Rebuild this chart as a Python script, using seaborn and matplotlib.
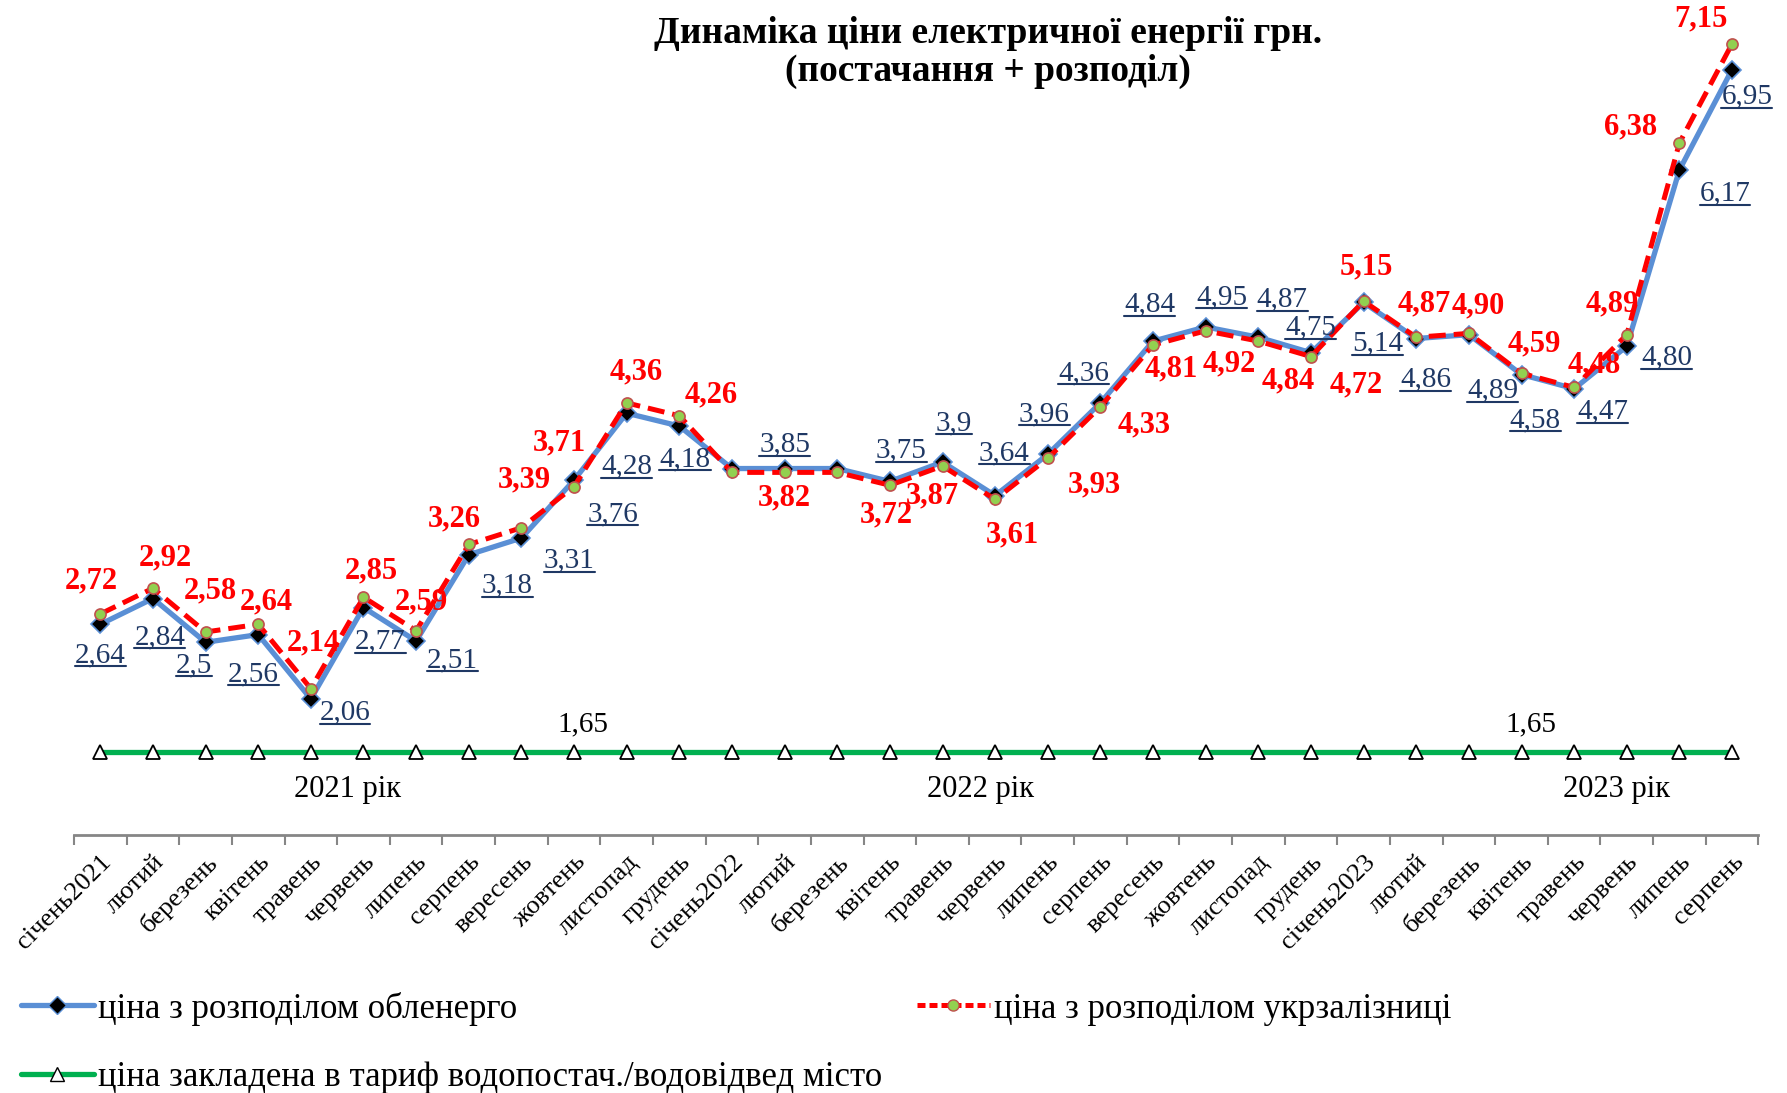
"""Динаміка ціни електричної енергії: обленерго / укрзалізниця / тариф"""
import matplotlib
matplotlib.use('Agg')
import matplotlib.pyplot as plt
import seaborn as sns
from matplotlib.lines import Line2D

# дані з графіка
months = ['січень2021', 'лютий', 'березень', 'квітень', 'травень', 'червень',
          'липень', 'серпень', 'вересень', 'жовтень', 'листопад', 'грудень',
          'січень2022', 'лютий', 'березень', 'квітень', 'травень', 'червень',
          'липень', 'серпень', 'вересень', 'жовтень', 'листопад', 'грудень',
          'січень2023', 'лютий', 'березень', 'квітень', 'травень', 'червень',
          'липень', 'серпень']

oblenergo = [2.64, 2.84, 2.50, 2.56, 2.06, 2.77, 2.51, 3.18, 3.31, 3.76, 4.28, 4.18,
             3.85, 3.85, 3.85, 3.75, 3.90, 3.64, 3.96, 4.36, 4.84, 4.95, 4.87, 4.75,
             5.14, 4.86, 4.89, 4.58, 4.47, 4.80, 6.17, 6.95]

ukrzal = [2.72, 2.92, 2.58, 2.64, 2.14, 2.85, 2.59, 3.26, 3.39, 3.71, 4.36, 4.26,
          3.82, 3.82, 3.82, 3.72, 3.87, 3.61, 3.93, 4.33, 4.81, 4.92, 4.84, 4.72,
          5.15, 4.87, 4.90, 4.59, 4.48, 4.89, 6.38, 7.15]

tariff = [1.65] * 32

oblenergo_labels = ['2,64', '2,84', '2,5', '2,56', '2,06', '2,77', '2,51', '3,18', '3,31',
                    '3,76', '4,28', '4,18', '', '3,85', '', '3,75', '3,9', '3,64', '3,96',
                    '4,36', '4,84', '4,95', '4,87', '4,75', '5,14', '4,86', '4,89', '4,58',
                    '4,47', '4,80', '6,17', '6,95']

ukrzal_labels = ['2,72', '2,92', '2,58', '2,64', '2,14', '2,85', '2,59', '3,26', '3,39',
                 '3,71', '4,36', '4,26', '', '3,82', '', '3,72', '3,87', '3,61', '3,93',
                 '4,33', '4,81', '4,92', '4,84', '4,72', '5,15', '4,87', '4,90', '4,59',
                 '4,48', '4,89', '6,38', '7,15']

tariff_label_idx = [9, 27]

years = ['2021 рік', '2022 рік', '2023 рік']

# розміщення підписів (зсув від точки, px)
blue_off = [(0, 27), (6, 34), (-10, 20), (-4, 35), (30, 12), (15, 30), (32, 17), (34, 27),
            (42, 20), (34, 30), (0, 47), (5, 29), (0, 0), (0, -21), (0, 0), (10, -27),
            (10, -34), (8, -37), (-3, -35), (-15, -26), (-3, -32), (14, -26), (21, -33),
            (0, -22), (12, 36), (8, 36), (21, 49), (12, 40), (25, 20), (35, 10), (40, 21),
            (13, 24)]
red_off = [(-8, -29), (11, -27), (4, -36), (7, -20), (2, -40), (7, -23), (5, -25), (-13, -22),
           (3, -42), (-13, -38), (8, -27), (28, -18), (0, 0), (0, 22), (0, 0), (-3, 26),
           (-9, 26), (15, 31), (41, 23), (38, 16), (16, 21), (21, 29), (26, 35), (40, 25),
           (2, -30), (7, -29), (8, -24), (11, -26), (18, -20), (-13, -27), (-43, -14),
           (-27, -22)]
year_pos = [(4.7, 1.36), (16.73, 1.36), (28.8, 1.36)]

sns.set_theme(style='white')
plt.rcParams['font.family'] = ['Liberation Serif', 'DejaVu Serif']
plt.rcParams['text.color'] = 'black'
plt.rcParams['xtick.color'] = 'black'

BLUE = '#5A8FD5'
NAVY = '#1F3864'
RED = '#FF0000'
GREEN = '#00B050'

fig = plt.figure(figsize=(17.87, 10.93), dpi=100)
ax = fig.add_axes([0.0414, 0.2357, 0.9426, 0.7643])

x = list(range(len(months)))

sns.lineplot(x=x, y=tariff, ax=ax, color=GREEN, linewidth=3.8, marker='^',
             markersize=10, markerfacecolor='white', markeredgecolor='black',
             markeredgewidth=1.3, zorder=2)
sns.lineplot(x=x, y=oblenergo, ax=ax, color=BLUE, linewidth=3.8, marker='D',
             markersize=9, markerfacecolor='black', markeredgecolor=BLUE,
             markeredgewidth=1.2, zorder=3)
sns.lineplot(x=x, y=ukrzal, ax=ax, color=RED, linewidth=3.6, linestyle=(0, (3.4, 1.6)),
             marker='o', markersize=8, markerfacecolor='#92D050', markeredgecolor='#C0504D',
             markeredgewidth=1.2, zorder=4)

ax.set_xlim(-0.5, len(months) - 0.5)
ax.set_ylim(1, 7.49)

for s in ['top', 'right', 'left']:
    ax.spines[s].set_visible(False)
ax.spines['bottom'].set_color('#868686')
ax.spines['bottom'].set_linewidth(2)
ax.set_yticks([])
ax.set_xticks(x)
ax.set_xticklabels(months, rotation=45, ha='right', rotation_mode='anchor', fontsize=19,
                   color='black')
ax.set_xticks([i - 0.5 for i in range(len(months) + 1)], minor=True)
ax.tick_params(axis='x', which='major', length=0, pad=11)
ax.tick_params(axis='x', which='minor', length=7, width=1.5, color='#868686', direction='out',
               bottom=True)
ax.set_xlabel('')
ax.set_ylabel('')
ax.grid(False)

k = 1787 / 1568 * 0.72  # px (зменшене зображення) -> pt

blue_texts = []
for i, (lab, (dx, dy)) in enumerate(zip(oblenergo_labels, blue_off)):
    if not lab:
        continue
    t = ax.annotate(lab, (i, oblenergo[i]), xytext=(dx * k, -dy * k), textcoords='offset points',
                    ha='center', va='center', fontsize=21, color=NAVY, zorder=6)
    blue_texts.append(t)

for i, (lab, (dx, dy)) in enumerate(zip(ukrzal_labels, red_off)):
    if not lab:
        continue
    ax.annotate(lab, (i, ukrzal[i]), xytext=(dx * k, -dy * k), textcoords='offset points',
                ha='center', va='center', fontsize=22, color=RED, fontweight='bold', zorder=6)

for i in tariff_label_idx:
    ax.annotate('1,65', (i, tariff[i]), xytext=(8 * k, 24 * k), textcoords='offset points',
                ha='center', va='center', fontsize=21, color='black')

for name, (px, py) in zip(years, year_pos):
    ax.text(px, py, name, ha='center', va='center', fontsize=22, color='black')

fig.text(0.553, 0.985, 'Динаміка ціни електричної енергії грн.\n(постачання + розподіл)',
         ha='center', va='top', fontsize=27, fontweight='bold', linespacing=1.1,
         color='black')

handles = [
    Line2D([], [], color=BLUE, linewidth=3.8, marker='D', markersize=9,
           markerfacecolor='black', markeredgecolor=BLUE),
    Line2D([], [], color=GREEN, linewidth=3.8, marker='^', markersize=10,
           markerfacecolor='white', markeredgecolor='black'),
    Line2D([], [], color=RED, linewidth=3.6, linestyle=(0, (1.6, 0.8)), marker='o',
           markersize=8, markerfacecolor='#92D050', markeredgecolor='#C0504D'),
]
names = ['ціна з розподілом обленерго',
         'ціна закладена в тариф водопостач./водовідвед місто',
         'ціна з розподілом укрзалізниці']
fig.legend(handles, names, loc='lower left', bbox_to_anchor=(0.0, -0.02), ncol=2,
           frameon=False, fontsize=25, handlelength=2.1, handletextpad=0.12,
           columnspacing=1.0, labelspacing=1.02, borderaxespad=0.2)

# підкреслення синіх підписів
fig.canvas.draw()
renderer = fig.canvas.get_renderer()
inv = fig.transFigure.inverted()
for t in blue_texts:
    bb = t.get_window_extent(renderer)
    (x0, y0), (x1, _) = inv.transform([(bb.x0, bb.y0 + 2), (bb.x1, bb.y1)])
    fig.add_artist(Line2D([x0, x1], [y0, y0], transform=fig.transFigure,
                          color=NAVY, linewidth=1.5))

fig.savefig('out.png', dpi=100)
print('saved out.png')
